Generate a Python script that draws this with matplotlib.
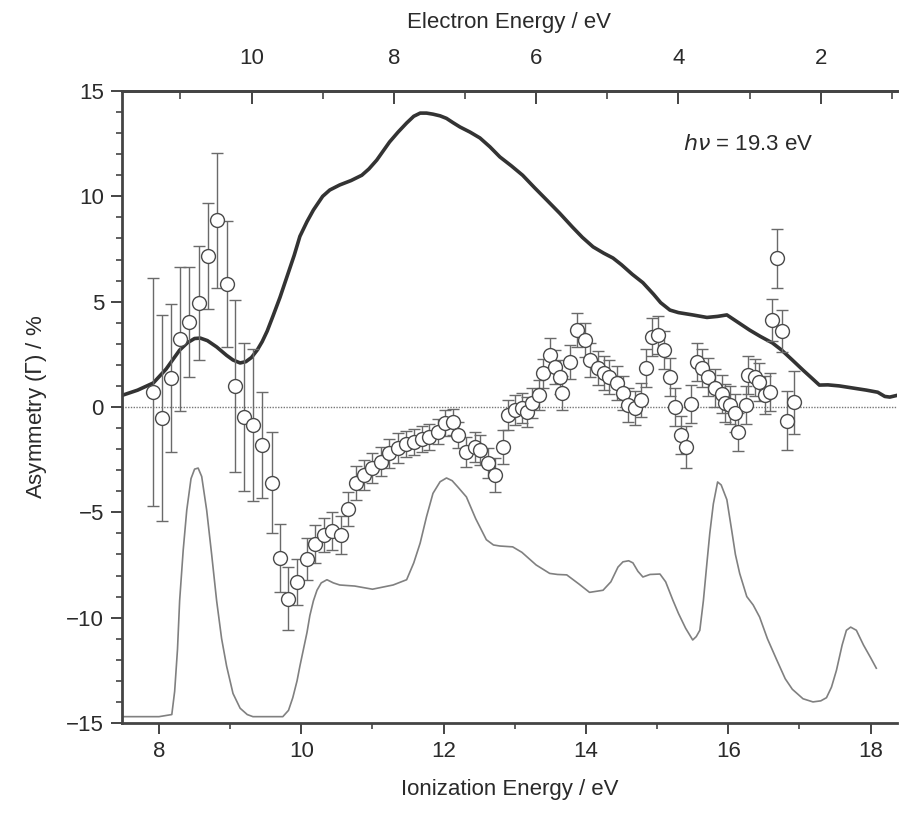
import numpy as np
import matplotlib
matplotlib.use("Agg")
import matplotlib.pyplot as plt

plt.rcParams['font.family'] = ['Liberation Sans', 'DejaVu Sans']

HV = 19.3

# thick curve (photoelectron spectrum at 19.3 eV, scaled)
pes_x = [7.48, 7.7, 7.92, 8.1, 8.29, 8.4, 8.5, 8.58, 8.68, 8.81, 8.95, 9.04, 9.14,
         9.22, 9.3, 9.38, 9.45, 9.52, 9.6, 9.7, 9.8, 9.9, 9.98, 10.08, 10.17, 10.3,
         10.4, 10.54, 10.7, 10.85, 10.95, 11.06, 11.15, 11.24, 11.36, 11.48, 11.58,
         11.67, 11.76, 11.85, 11.95, 12.04, 12.13, 12.23, 12.37, 12.51, 12.65, 12.79,
         12.95, 13.11, 13.28, 13.45, 13.63, 13.81, 13.95, 14.1, 14.25, 14.38, 14.5,
         14.65, 14.8, 14.95, 15.05, 15.18, 15.3, 15.5, 15.7, 15.85, 15.98, 16.1,
         16.3, 16.45, 16.62, 16.75, 16.9, 17.05, 17.18, 17.28, 17.4, 17.56, 17.75,
         17.94, 18.1, 18.2, 18.27, 18.37]
pes_y = [0.55, 0.8, 1.14, 1.8, 2.7, 3.05, 3.25, 3.27, 3.15, 2.85, 2.45, 2.23, 2.09,
         2.15, 2.35, 2.7, 3.1, 3.6, 4.3, 5.2, 6.2, 7.2, 8.1, 8.8, 9.35, 10.0,
         10.3, 10.54, 10.75, 11.0, 11.3, 11.72, 12.15, 12.58, 13.05, 13.48, 13.8,
         13.95, 13.95, 13.9, 13.82, 13.7, 13.5, 13.29, 13.05, 12.77, 12.35, 11.87,
         11.45, 11.0, 10.4, 9.82, 9.2, 8.54, 8.05, 7.6, 7.3, 7.07, 6.75,
         6.3, 5.9, 5.35, 4.95, 4.6, 4.48, 4.37, 4.25, 4.3, 4.37, 4.1,
         3.65, 3.35, 3.04, 2.7, 2.23, 1.75, 1.35, 1.04, 1.05, 1.0, 0.9,
         0.8, 0.7, 0.5, 0.47, 0.55]

# thin curve (reference spectrum)
ref_x = [7.48, 8.0, 8.18, 8.22, 8.26, 8.29, 8.34, 8.39, 8.45, 8.5, 8.55, 8.6, 8.67,
         8.74, 8.81, 8.88, 8.95, 9.04, 9.14, 9.24, 9.32, 9.5, 9.74, 9.82, 9.88,
         9.94, 9.98, 10.03, 10.08, 10.12, 10.17, 10.22, 10.28, 10.36, 10.45, 10.54,
         10.75, 11.0, 11.29, 11.48, 11.58, 11.67, 11.76, 11.85, 11.95, 12.04, 12.12,
         12.2, 12.32, 12.45, 12.6, 12.7, 12.79, 12.97, 13.1, 13.3, 13.49, 13.6,
         13.73, 13.9, 14.05, 14.24, 14.35, 14.45, 14.52, 14.6, 14.66, 14.73, 14.8,
         14.9, 15.04, 15.12, 15.22, 15.3, 15.4, 15.5, 15.55, 15.6, 15.65, 15.7,
         15.74, 15.79, 15.85, 15.9, 15.98, 16.05, 16.1, 16.16, 16.26, 16.35, 16.44,
         16.55, 16.68, 16.8, 16.9, 17.05, 17.19, 17.3, 17.38, 17.45, 17.52, 17.6,
         17.66, 17.72, 17.8, 17.9, 18.0, 18.08]
ref_y = [-14.7, -14.7, -14.6, -13.5, -11.5, -9.2, -6.8, -4.9, -3.4, -2.95, -2.9, -3.3,
         -4.9, -7.0, -9.2, -11.0, -12.3, -13.6, -14.3, -14.6, -14.7, -14.7, -14.7,
         -14.4, -13.8, -13.0, -12.3, -11.5, -10.7, -9.9, -9.2, -8.7, -8.35, -8.2,
         -8.35, -8.45, -8.5, -8.65, -8.45, -8.2, -7.4, -6.46, -5.2, -4.1, -3.55,
         -3.37, -3.5, -3.8, -4.27, -5.3, -6.3, -6.55, -6.6, -6.64, -6.9, -7.5,
         -7.9, -7.95, -7.97, -8.4, -8.8, -8.7, -8.3, -7.6, -7.35, -7.3, -7.4,
         -7.8, -8.07, -7.95, -7.93, -8.3, -9.16, -9.8, -10.5, -11.06, -10.9,
         -10.6, -9.2, -7.4, -6.0, -4.6, -3.56, -3.7, -4.4, -5.9, -7.0, -7.9,
         -9.0, -9.4, -9.97, -11.0, -12.0, -12.9, -13.4, -13.85, -14.0, -13.95,
         -13.8, -13.3, -12.5, -11.3, -10.6, -10.45, -10.6, -11.3, -11.9, -12.4]

# asymmetry data points
asym_x = [7.92, 8.04, 8.17, 8.29, 8.42, 8.56, 8.69, 8.81, 8.95, 9.07, 9.19, 9.32,
          9.45, 9.59, 9.70, 9.81, 9.94, 10.08, 10.19, 10.32, 10.43, 10.56, 10.66,
          10.77, 10.88, 11.0, 11.12, 11.23, 11.36, 11.47, 11.58, 11.69, 11.8, 11.92,
          12.02, 12.13, 12.2, 12.31, 12.44, 12.51, 12.62, 12.72, 12.83, 12.9, 13.0,
          13.1, 13.17, 13.24, 13.34, 13.4, 13.49, 13.56, 13.63, 13.67, 13.77, 13.88,
          13.98, 14.05, 14.17, 14.26, 14.33, 14.43, 14.52, 14.59, 14.69, 14.78,
          14.85, 14.93, 15.01, 15.1, 15.18, 15.25, 15.34, 15.41, 15.48, 15.56,
          15.63, 15.71, 15.81, 15.91, 15.95, 16.02, 16.09, 16.14, 16.25, 16.28,
          16.37, 16.43, 16.51, 16.58, 16.62, 16.69, 16.75, 16.82, 16.93]
asym_y = [0.71, -0.52, 1.38, 3.23, 4.03, 4.94, 7.17, 8.87, 5.84, 1.0, -0.47, -0.85,
          -1.8, -3.6, -7.17, -9.1, -8.3, -7.2, -6.5, -6.07, -5.9, -6.07, -4.85,
          -3.6, -3.23, -2.9, -2.6, -2.2, -1.95, -1.76, -1.66, -1.52, -1.42, -1.18,
          -0.76, -0.71, -1.33, -2.13, -1.9, -2.04, -2.66, -3.23, -1.9, -0.38, -0.14,
          -0.05, -0.23, 0.19, 0.57, 1.6, 2.47, 1.9, 1.42, 0.66, 2.14, 3.65,
          3.18, 2.23, 1.85, 1.61, 1.42, 1.14, 0.66, 0.09, -0.05, 0.33,
          1.85, 3.32, 3.42, 2.7, 1.42, 0.0, -1.33, -1.9, 0.15, 2.14,
          1.85, 1.42, 0.9, 0.6, 0.19, 0.1, -0.28, -1.19, 0.1, 1.52,
          1.4, 1.19, 0.57, 0.7, 4.13, 7.07, 3.6, -0.66, 0.22]
asym_err = [5.4, 4.9, 3.5, 3.4, 2.6, 2.7, 2.5, 3.2, 3.0, 4.1, 3.5, 3.6,
            2.5, 2.4, 1.6, 1.5, 1.1, 1.0, 0.9, 0.8, 0.9, 0.9, 0.8,
            0.8, 0.7, 0.7, 0.7, 0.7, 0.7, 0.6, 0.6, 0.6, 0.6, 0.6,
            0.6, 0.6, 0.6, 0.7, 0.7, 0.7, 0.7, 0.8, 0.8, 0.7, 0.7,
            0.7, 0.7, 0.7, 0.7, 0.7, 0.8, 0.8, 0.8, 0.8, 0.8, 0.8,
            0.8, 0.8, 0.8, 0.8, 0.8, 0.8, 0.8, 0.8, 0.8, 0.8,
            0.9, 0.9, 0.9, 0.9, 0.9, 0.9, 0.9, 1.0, 0.9, 0.9,
            0.9, 0.9, 0.9, 0.9, 0.9, 0.9, 0.9, 0.9, 0.9, 0.9,
            0.9, 0.9, 0.9, 0.9, 1.0, 1.4, 1.0, 1.4, 1.5]

TXT = '#2a2a2a'

fig = plt.figure(figsize=(8.99, 8.16), dpi=100)
ax = fig.add_axes([0.1357, 0.114, 0.862, 0.7745])

ax.axhline(0, color='#777777', lw=1.0, ls=(0, (1, 1)), zorder=1)
ax.plot(ref_x, ref_y, color='#808080', lw=1.2, zorder=2)
ax.plot(pes_x, pes_y, color='#333333', lw=2.6, zorder=2)
ax.errorbar(asym_x, asym_y, yerr=asym_err, fmt='o', ms=10, mfc='white',
            mec='#4a4a4a', mew=1.0, ecolor='#6a6a6a', elinewidth=1.0,
            capsize=4.5, capthick=1.0, zorder=3)

ax.set_xlim(7.48, 18.37)
ax.set_ylim(-15, 15)

ax.set_xticks([8, 10, 12, 14, 16, 18])
ax.set_xticks([9, 11, 13, 15, 17], minor=True)
ax.set_yticks([-15, -10, -5, 0, 5, 10, 15])
ax.set_yticks(np.arange(-15, 16, 1), minor=True)
ax.set_yticklabels(['\u221215', '\u221210', '\u22125', '0', '5', '10', '15'])

ax.tick_params(axis='both', which='major', direction='out', length=8, width=1.4,
               labelsize=16, colors='#444444', labelcolor=TXT, pad=5)
ax.tick_params(axis='both', which='minor', direction='out', length=4.5, width=1.2,
               colors='#444444')
ax.tick_params(axis='x', top=False)

for side in ['left', 'bottom', 'top']:
    ax.spines[side].set_linewidth(2.0)
    ax.spines[side].set_color('#444444')
ax.spines['right'].set_visible(False)

ax.set_xlabel('Ionization Energy / eV', fontsize=16, color=TXT, labelpad=12)
ax.set_ylabel('Asymmetry ($\\mathit{\\Gamma}$) / %', fontsize=16, color=TXT, labelpad=12)

# top axis: electron energy = hv - IE
sec = ax.secondary_xaxis('top', functions=(lambda x: HV - x, lambda x: HV - x))
sec.set_xticks([10, 8, 6, 4, 2])
sec.set_xticks([11, 9, 7, 5, 3, 1], minor=True)
sec.tick_params(which='major', direction='in', length=9, width=1.4, labelsize=16,
                colors='#444444', labelcolor=TXT, pad=16)
sec.tick_params(which='minor', direction='in', length=5.5, width=1.2, colors='#444444')
sec.spines['top'].set_linewidth(2.0)
sec.spines['top'].set_color('#444444')
sec.set_xlabel('Electron Energy / eV', fontsize=16, color=TXT, labelpad=14)

ax.text(15.36, 12.45, '$\\mathit{h\\nu}$ = 19.3 eV', fontsize=16, color=TXT,
        ha='left', va='center')

fig.savefig('out.png', dpi=100)
